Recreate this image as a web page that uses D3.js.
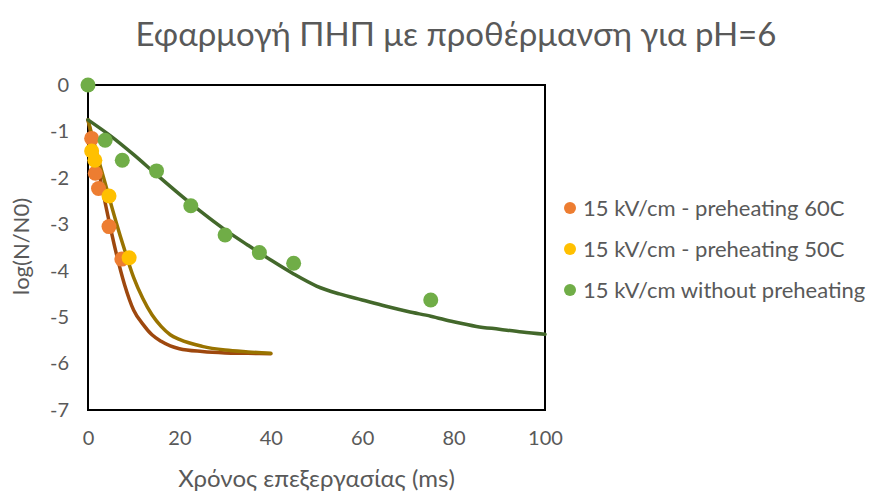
<!DOCTYPE html>
<html>
<head>
<meta charset="utf-8">
<script src="https://cdn.jsdelivr.net/npm/d3@7"></script>
<style>
  body { margin: 0; background: #fff; }
  text { font-family: Lato, "Open Sans", sans-serif; fill: #595959; }
</style>
</head>
<body>
<div id="chart"></div>
<script>
const W = 875, H = 493;
const margin = {top: 85, right: 330, bottom: 83, left: 88};
const width = W - margin.left - margin.right;
const height = H - margin.top - margin.bottom;

// measured points
const ptsX60 = [0.8, 1.6, 2.3, 4.6, 7.4];
const ptsY60 = [-1.15, -1.9, -2.23, -3.05, -3.75];
const ptsX50 = [0.8, 1.5, 4.6, 9.0];
const ptsY50 = [-1.42, -1.62, -2.39, -3.72];
const ptsX0 = [0, 3.75, 7.5, 15, 22.5, 30, 37.5, 45, 75];
const ptsY0 = [0, -1.19, -1.62, -1.85, -2.6, -3.23, -3.61, -3.84, -4.63];

// fitted curves
const fitX60 = [0, 2, 4, 6, 8, 10, 12, 14, 16, 18, 20, 25, 30, 35, 40];
const fitY60 = [-0.75, -1.7, -2.65, -3.55, -4.3, -4.85, -5.15, -5.38, -5.52, -5.62, -5.68, -5.74, -5.77, -5.78, -5.79];
const fitX50 = [0, 2, 4, 6, 8, 10, 12, 14, 16, 18, 20, 25, 30, 35, 40];
const fitY50 = [-0.75, -1.5, -2.2, -2.9, -3.55, -4.15, -4.6, -4.95, -5.2, -5.38, -5.48, -5.63, -5.71, -5.75, -5.78];
const fitX0 = [0, 5, 10, 15, 20, 25, 30, 35, 40, 45, 50, 55, 60, 65, 70, 75, 80, 85, 90, 95, 100];
const fitY0 = [-0.75, -1.1, -1.5, -1.93, -2.35, -2.75, -3.12, -3.45, -3.77, -4.07, -4.33, -4.5, -4.63, -4.76, -4.88, -4.98, -5.1, -5.2, -5.26, -5.32, -5.37];

const xTicks = [0, 20, 40, 60, 80, 100];
const yTicks = [0, -1, -2, -3, -4, -5, -6, -7];
const legendLabels = ["15 kV/cm - preheating 60C", "15 kV/cm - preheating 50C", "15 kV/cm without preheating"];

const zip = (xs, ys) => xs.map((x, i) => ({x: x, y: ys[i]}));

const series = [
    {pts: zip(ptsX60, ptsY60), fit: zip(fitX60, fitY60), dot: "#ED7D31", line: "#9E480E"},
    {pts: zip(ptsX50, ptsY50), fit: zip(fitX50, fitY50), dot: "#FFC000", line: "#997300"},
    {pts: zip(ptsX0, ptsY0), fit: zip(fitX0, fitY0), dot: "#70AD47", line: "#43682B"}
];

const root = d3.select("#chart").append("svg").attr("width", W).attr("height", H);

root.append("text")
    .attr("x", 456).attr("y", 46)
    .attr("text-anchor", "middle")
    .style("font-size", "33px")
    .text("Εφαρμογή ΠΗΠ με προθέρμανση για pH=6");

const svg = root.append("g").attr("transform", `translate(${margin.left},${margin.top})`);

const xScale = d3.scaleLinear().domain([0, 100]).range([0, width]);
const yScale = d3.scaleLinear().domain([-7, 0]).range([height, 0]);

// frame
svg.append("rect")
    .attr("x", 0).attr("y", 0).attr("width", width).attr("height", height)
    .attr("fill", "none").attr("stroke", "#000").attr("stroke-width", 2);

const xAxisG = svg.append("g").attr("transform", `translate(0,${height})`)
    .call(d3.axisBottom(xScale).tickValues(xTicks).tickFormat(d => String(d)).tickSize(0).tickPadding(21));
const yAxisG = svg.append("g")
    .call(d3.axisLeft(yScale).tickValues(yTicks).tickFormat(d => String(d)).tickSize(0).tickPadding(19));
[xAxisG, yAxisG].forEach(g => {
    g.select(".domain").remove();
    g.selectAll("text").style("font-size", "20px").attr("fill", "#595959")
        .style("font-family", "Lato, 'Open Sans', sans-serif");
});

root.append("text")
    .attr("x", margin.left + width / 2).attr("y", 487)
    .attr("text-anchor", "middle")
    .style("font-size", "24px")
    .text("Χρόνος επεξεργασίας (ms)");

root.append("text")
    .attr("transform", `translate(29,${margin.top + height / 2 - 1}) rotate(-90)`)
    .attr("text-anchor", "middle")
    .style("font-size", "22px")
    .text("log(N/N0)");

const lineGen = d3.line().x(d => xScale(d.x)).y(d => yScale(d.y)).curve(d3.curveMonotoneX);

series.forEach(s => {
    svg.append("path").datum(s.fit)
        .attr("d", lineGen)
        .attr("fill", "none")
        .attr("stroke", s.line)
        .attr("stroke-width", 3.5)
        .attr("stroke-linejoin", "round")
        .attr("stroke-linecap", "round");
});

series.forEach(s => {
    svg.selectAll(null).data(s.pts).enter().append("circle")
        .attr("cx", d => xScale(d.x))
        .attr("cy", d => yScale(d.y))
        .attr("r", 7.5)
        .attr("fill", s.dot);
});

// legend
const legend = root.append("g").attr("transform", "translate(570,208)");
legendLabels.forEach((lab, i) => {
    const row = legend.append("g").attr("transform", `translate(0,${i * 41})`);
    row.append("circle").attr("r", 6).attr("fill", series[i].dot);
    row.append("text").attr("x", 13).attr("dy", "0.36em")
        .style("font-size", "22px").text(lab);
});
</script>
</body>
</html>
